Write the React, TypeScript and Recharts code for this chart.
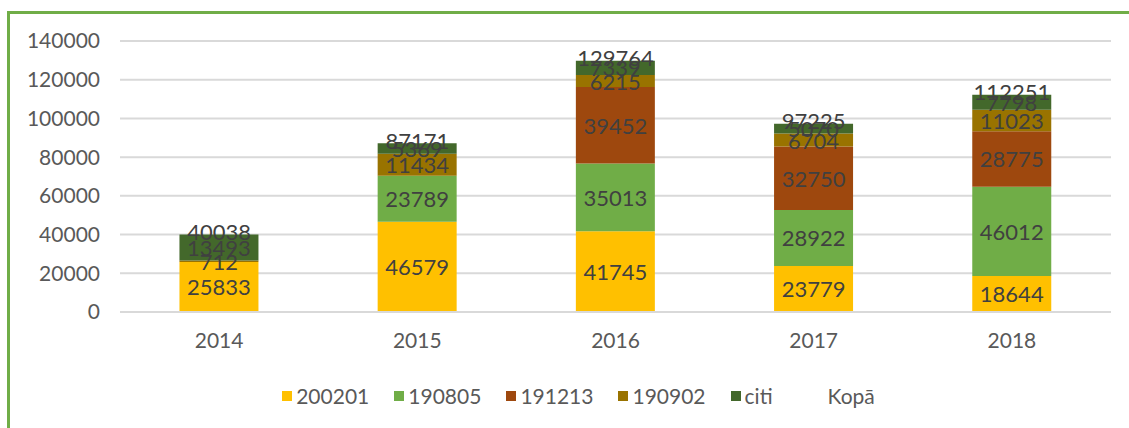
import {
  Bar,
  CartesianGrid,
  ComposedChart,
  LabelList,
  Legend,
  Line,
  XAxis,
  YAxis,
} from "recharts";

// Stacked totals per year by code, with the "Kopā" total shown as a label only.

const years = ["2014", "2015", "2016", "2017", "2018"];
const s200201 = [25833, 46579, 41745, 23779, 18644];
const s190805 = [null, 23789, 35013, 28922, 46012];
const s191213 = [null, null, 39452, 32750, 28775];
const s190902 = [712, 11434, 6215, 6704, 11023];
const sCiti = [13493, 5369, 7339, 5070, 7798];
const kopa = [40038, 87171, 129764, 97225, 112251];
const yTicks = [0, 20000, 40000, 60000, 80000, 100000, 120000, 140000];

const series = [
  { key: "200201", color: "#FFC000" },
  { key: "190805", color: "#70AD47" },
  { key: "191213", color: "#9E480E" },
  { key: "190902", color: "#997300" },
  { key: "citi", color: "#43682B" },
];

const data = years.map((year, i) => ({
  year,
  "200201": s200201[i],
  "190805": s190805[i],
  "191213": s191213[i],
  "190902": s190902[i],
  citi: sCiti[i],
  "Kopā": kopa[i],
}));

const FONT = "Lato, 'Open Sans', sans-serif";
const LABEL_COLOR = "#404040";
const AXIS_COLOR = "#595959";
const GRID = "#d9d9d9";

function BarLabel(props: any) {
  const { x, y, width, height, value } = props;
  if (!value) return null;
  return (
    <text
      x={Number(x) + Number(width) / 2}
      y={Number(y) + Number(height) / 2}
      textAnchor="middle"
      dominantBaseline="central"
      fill={LABEL_COLOR}
      fontSize={22}
      fontFamily={FONT}
    >
      {value}
    </text>
  );
}

function TotalLabel(props: any) {
  const { x, y, value } = props;
  if (!value) return null;
  return (
    <text
      x={x}
      y={Number(y) - 3}
      textAnchor="middle"
      dominantBaseline="central"
      fill={LABEL_COLOR}
      fontSize={22}
      fontFamily={FONT}
    >
      {value}
    </text>
  );
}

function LegendContent() {
  return (
    <div
      style={{
        display: "flex",
        justifyContent: "center",
        alignItems: "center",
        gap: 25,
        fontFamily: FONT,
        fontSize: 21,
        color: AXIS_COLOR,
        paddingLeft: 28,
      }}
    >
      {series.map((s) => (
        <div key={s.key} style={{ display: "flex", alignItems: "center" }}>
          <span
            style={{
              width: 10,
              height: 10,
              background: s.color,
              marginRight: 4,
              display: "inline-block",
            }}
          />
          {s.key}
        </div>
      ))}
      <div style={{ marginLeft: 30 }}>Kopā</div>
    </div>
  );
}

export default function App() {
  return (
    <div
      style={{
        position: "absolute",
        left: 0,
        top: 0,
        width: 1129,
        height: 428,
        background: "#fff",
        overflow: "hidden",
      }}
    >
      <div
        style={{
          position: "absolute",
          left: 7,
          top: 11,
          right: 0,
          bottom: 0,
          borderLeft: "3px solid #70AD47",
          borderTop: "3px solid #70AD47",
        }}
      />
      <ComposedChart
        width={1129}
        height={428}
        data={data}
        margin={{ top: 41, right: 18, bottom: 60, left: 0 }}
        barCategoryGap="30%"
      >
        <CartesianGrid vertical={false} stroke={GRID} strokeWidth={2} />
        <XAxis
          dataKey="year"
          tickLine={false}
          tickSize={0}
          tickMargin={21}
          height={30}
          axisLine={{ stroke: GRID, strokeWidth: 2 }}
          tick={{ fontSize: 21, fill: AXIS_COLOR, fontFamily: FONT }}
        />
        <YAxis
          domain={[0, 140000]}
          ticks={yTicks}
          interval={0}
          width={120}
          tickLine={false}
          tickSize={0}
          tickMargin={20}
          axisLine={false}
          tick={{ fontSize: 21, fill: AXIS_COLOR, fontFamily: FONT }}
        />
        <Legend
          verticalAlign="bottom"
          content={<LegendContent />}
          wrapperStyle={{ top: 383, bottom: "auto", left: 0, width: 1129, height: 26 }}
        />
        {series.map((s) => (
          <Bar
            key={s.key}
            dataKey={s.key}
            stackId="a"
            fill={s.color}
            isAnimationActive={false}
          >
            <LabelList dataKey={s.key} content={<BarLabel />} />
          </Bar>
        ))}
        <Line
          dataKey="Kopā"
          stroke="none"
          dot={false}
          activeDot={false}
          legendType="none"
          isAnimationActive={false}
        >
          <LabelList dataKey="Kopā" content={<TotalLabel />} />
        </Line>
      </ComposedChart>
    </div>
  );
}
